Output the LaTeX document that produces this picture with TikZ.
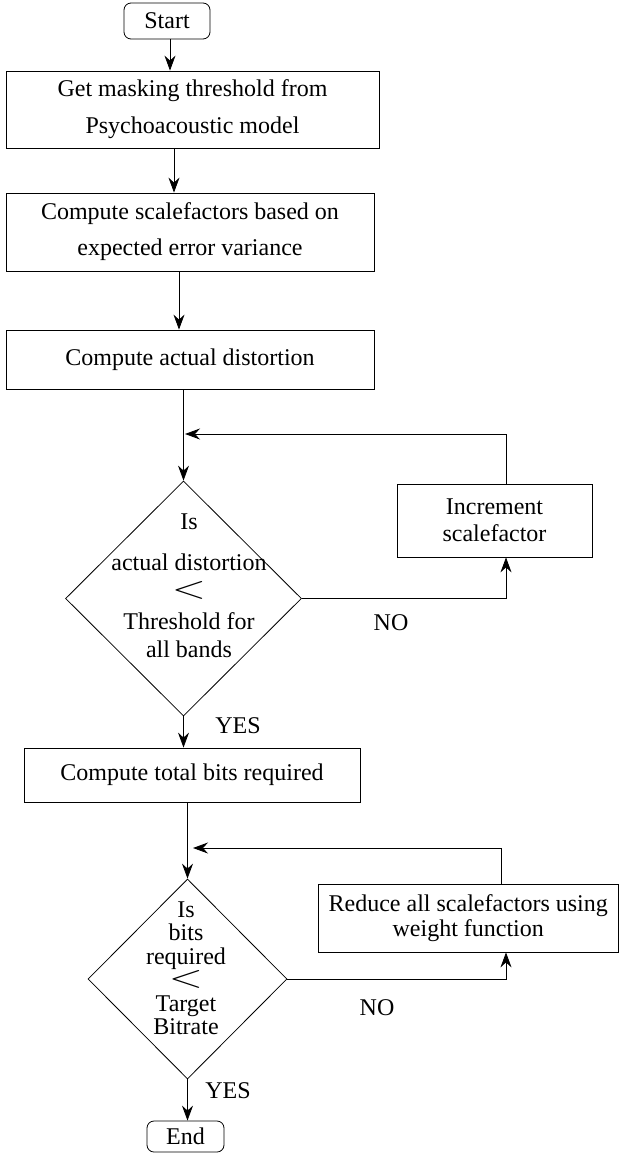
\documentclass[tikz,border=0pt]{standalone}
\usepackage{fontspec}
\setmainfont{Liberation Serif}
\usetikzlibrary{shapes.geometric,arrows.meta,calc}
\newcommand{\bigless}{\scalebox{1.8}[1.3]{$<$}}
\begin{document}
\begin{tikzpicture}[x=1pt,y=-1pt,
  every node/.style={font=\fontsize{24}{28}\selectfont, inner sep=0pt},
  procbox/.style={draw, rectangle, line width=0.8pt, align=center},
  termbox/.style={draw, rectangle, rounded corners=7pt, line width=0.8pt},
  decbox/.style={draw, diamond, line width=0.8pt, aspect=1},
  txt/.style={align=center},
  flow/.style={line width=0.8pt, -{Stealth[length=15pt,width=11pt,inset=5pt]}},
]
\useasboundingbox (0,0) rectangle (619,1153);

% nodes
\node[termbox, minimum width=86pt, minimum height=36pt] (start) at (167,21) {Start};
\node[procbox, minimum width=373pt, minimum height=77pt, font=\fontsize{24}{37}\selectfont] (b1) at (192.5,109.5) {Get masking threshold from\\Psychoacoustic model};
\node[procbox, minimum width=368pt, minimum height=78pt, font=\fontsize{24}{36}\selectfont] (b2) at (190,232) {Compute scalefactors based on\\expected error variance};
\node[procbox, minimum width=368pt, minimum height=59pt] (b3) at (190,359.5) {Compute actual distortion};
\node[decbox, minimum width=236pt, minimum height=235pt] (d1) at (183.5,598.5) {};
\node[txt, font=\fontsize{24}{28}\selectfont] (d1t) at (189,585.5) {Is\\[13pt]actual distortion\\\bigless\hspace*{30pt}\\[3pt]Threshold for\\all bands};
\node[procbox, minimum width=195pt, minimum height=73pt, font=\fontsize{24}{27}\selectfont] (inc) at (494.5,520.5) {Increment\\scalefactor};
\node[procbox, minimum width=336pt, minimum height=54pt] (b4) at (192,775) {Compute total bits required};
\node[decbox, minimum width=199pt, minimum height=200pt] (d2) at (187.5,979) {};
\node[txt, font=\fontsize{24}{23.5}\selectfont] (d2t) at (186,968) {Is\\bits\\required\\\bigless\\Target\\Bitrate};
\node[procbox, minimum width=299.5pt, minimum height=68pt, font=\fontsize{24}{25}\selectfont] (red) at (468.25,918) {Reduce all scalefactors using\\weight function};
\node[termbox, minimum width=77pt, minimum height=31pt] (end) at (185.5,1136.5) {End};

% labels
\node (no1) at (391,623) {NO};
\node (yes1) at (238,726) {YES};
\node (no2) at (377,1008) {NO};
\node (yes2) at (228,1091) {YES};

% connectors
\coordinate (fb1) at (185,434);
\coordinate (fb2) at (193,848);
\draw[flow] ([xshift=3pt]start.south) -- ([xshift=3pt]start.south |- b1.north);
\draw[flow] ([xshift=-18.5pt]b1.south) -- ([xshift=-18.5pt]b1.south |- b2.north);
\draw[flow] ([xshift=-11pt]b2.south) -- ([xshift=-11pt]b2.south |- b3.north);
\draw[flow] (b3.south -| d1.north) -- (d1.north);
\draw[flow] ([xshift=11.5pt]inc.north) |- (fb1);
\draw[flow] (d1.east) -| ([xshift=11.5pt]inc.south);
\draw[flow] (d1.south) -- (d1.south |- b4.north);
\draw[flow] (b4.south -| d2.north) -- (d2.north);
\draw[flow] ([xshift=32.75pt]red.north) |- (fb2);
\draw[flow] (d2.east) -| ([xshift=37.75pt]red.south);
\draw[flow] (d2.south) -- (d2.south |- end.north);
\end{tikzpicture}
\end{document}
